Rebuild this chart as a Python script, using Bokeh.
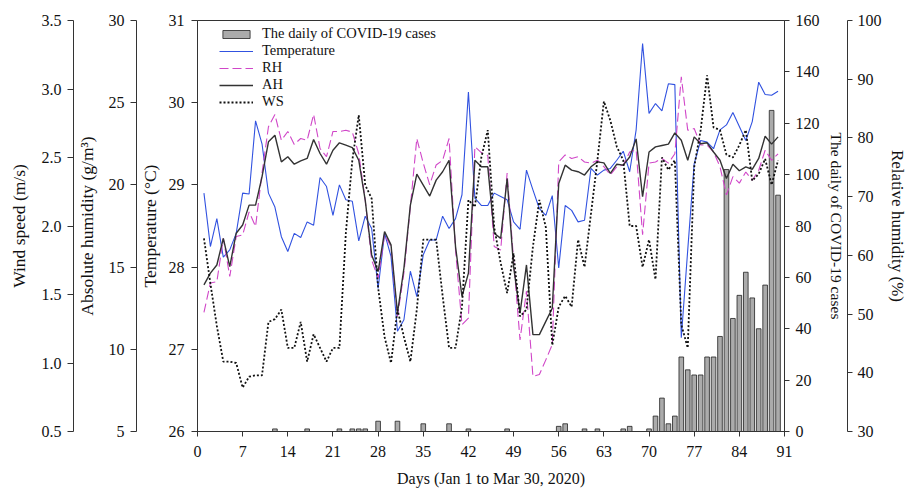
from bokeh.plotting import figure
from bokeh.models import Range1d, LinearAxis, FixedTicker, Legend, LegendItem
from bokeh.embed import file_html
from bokeh.resources import INLINE

days = list(range(1, 91))
temperature = [28.90, 28.25, 28.59, 28.12, 28.21, 28.41, 28.90, 28.89, 29.78, 29.50,
               28.90, 28.73, 28.37, 28.19, 28.41, 28.36, 28.55, 28.51, 29.09, 28.98,
               28.63, 29.00, 28.82, 28.80, 28.32, 28.62, 28.47, 27.74, 28.41, 28.13,
               27.22, 27.36, 27.95, 27.64, 28.15, 28.33, 28.33, 28.62, 28.47, 28.59,
               28.88, 30.13, 28.84, 28.75, 28.75, 28.90, 28.86, 28.82, 28.55, 28.46,
               29.18, 28.94, 28.71, 28.63, 28.87, 27.99, 28.75, 28.69, 28.55, 28.57,
               29.20, 29.12, 29.18, 29.20, 29.30, 29.41, 29.16, 29.67, 30.72, 29.87,
               29.99, 29.90, 30.23, 30.22, 27.14, 28.21, 29.26, 29.54, 29.52, 29.44,
               29.67, 29.73, 29.88, 29.71, 29.54, 29.77, 30.25, 30.10, 30.09, 30.14]
rh = [50.3, 55.3, 55.5, 62.9, 56.4, 63.2, 63.5, 67.4, 64.9, 74.0,
      81.9, 84.0, 79.6, 81.1, 78.9, 79.9, 79.6, 84.0, 78.2, 76.8,
      81.1, 81.1, 81.3, 81.0, 77.3, 69.4, 59.2, 56.1, 63.5, 61.5,
      49.6, 57.0, 68.3, 79.9, 75.7, 72.0, 75.4, 76.2, 79.9, 60.9,
      48.2, 49.3, 78.5, 77.5, 77.0, 61.5, 60.9, 74.0, 59.2, 45.6,
      53.9, 39.4, 39.7, 42.2, 44.8, 75.9, 77.1, 76.5, 76.8, 75.9,
      75.7, 76.2, 75.1, 73.7, 75.1, 75.4, 77.6, 78.0, 63.5, 75.7,
      75.9, 76.5, 75.7, 77.3, 90.4, 81.3, 81.6, 78.8, 78.8, 77.6,
      75.1, 70.3, 73.4, 72.3, 74.2, 72.8, 74.5, 77.9, 76.2, 77.3]
ah = [13.92, 14.63, 15.13, 16.75, 15.03, 17.06, 17.56, 18.77, 18.77, 20.49,
      22.62, 23.02, 21.40, 21.71, 21.26, 21.46, 21.61, 22.76, 21.91, 21.26,
      22.11, 22.56, 22.42, 22.27, 21.50, 19.08, 15.74, 14.73, 17.16, 16.35,
      12.20, 14.93, 18.77, 20.66, 19.99, 19.32, 20.29, 20.80, 21.50, 16.25,
      13.21, 14.63, 21.50, 21.10, 21.10, 17.06, 16.75, 20.39, 15.03, 12.20,
      15.13, 10.89, 10.89, 11.70, 12.50, 20.09, 21.20, 20.90, 20.80, 20.60,
      21.10, 21.40, 21.34, 20.70, 21.26, 21.20, 21.70, 22.80, 19.28, 22.00,
      22.31, 22.40, 22.48, 23.16, 22.72, 21.50, 22.92, 22.50, 22.56, 22.00,
      21.50, 20.39, 21.26, 20.86, 21.10, 20.94, 21.61, 22.96, 22.48, 22.92]
ws = [1.91, 1.58, 1.27, 1.01, 1.01, 1.00, 0.82, 0.90, 0.91, 0.91,
      1.30, 1.32, 1.39, 1.11, 1.11, 1.30, 1.01, 1.21, 1.11, 1.01,
      1.11, 1.11, 1.95, 2.48, 2.81, 2.30, 2.20, 1.55, 1.19, 1.00,
      1.39, 1.19, 1.01, 1.39, 1.90, 1.90, 1.90, 1.49, 1.11, 1.11,
      1.41, 2.19, 2.14, 2.50, 2.70, 1.99, 1.73, 1.51, 1.80, 1.34,
      1.39, 1.85, 2.19, 1.99, 1.13, 1.41, 1.49, 1.41, 1.90, 1.70,
      2.09, 2.48, 2.91, 2.77, 2.58, 2.48, 2.00, 2.00, 1.70, 1.90,
      1.61, 2.50, 2.41, 2.48, 1.28, 1.11, 2.43, 2.70, 3.10, 2.72,
      2.70, 2.52, 2.50, 2.59, 2.70, 2.33, 2.38, 2.49, 2.30, 2.48]
cases = [0, 0, 0, 0, 0, 0, 0, 0, 0, 0,
         0, 1, 0, 0, 0, 0, 1, 0, 0, 0,
         0, 1, 0, 1, 1, 1, 0, 4, 0, 0,
         4, 0, 0, 0, 3, 0, 0, 0, 3, 0,
         0, 1, 0, 0, 0, 0, 0, 1, 0, 0,
         0, 0, 0, 0, 0, 2, 3, 0, 0, 1,
         0, 1, 0, 0, 0, 1, 2, 0, 0, 1,
         6, 13, 3, 6, 29, 24, 22, 22, 29, 29,
         37, 102, 44, 53, 62, 52, 40, 57, 125, 92]

x_ticks = [0, 7, 14, 21, 28, 35, 42, 49, 56, 63, 70, 77, 84, 91]
temp_ticks = [26, 27, 28, 29, 30, 31]
ah_ticks = [5, 10, 15, 20, 25, 30]
ws_ticks = [0.5, 1.0, 1.5, 2.0, 2.5, 3.0, 3.5]
ws_tick_labels = ["0.5", "1.0", "1.5", "2.0", "2.5", "3.0", "3.5"]
case_ticks = [0, 20, 40, 60, 80, 100, 120, 140, 160]
rh_ticks = [30, 40, 50, 60, 70, 80, 90, 100]

FONT = "Liberation Serif"

p = figure(width=912, height=489, x_range=Range1d(0, 91), y_range=Range1d(26, 31),
           output_backend="svg", toolbar_location=None,
           min_border_left=197, min_border_right=128, min_border_top=20, min_border_bottom=57)
p.extra_y_ranges = {"ah": Range1d(5, 30), "ws": Range1d(0.5, 3.5),
                    "cases": Range1d(0, 160), "rh": Range1d(30, 100)}
p.grid.visible = False
p.outline_line_color = "#333333"
p.background_fill_color = "white"


def style(ax, ticks, label, tick_out, lab_so, axlab_so, lab_size="17.5px"):
    ax.ticker = FixedTicker(ticks=ticks)
    ax.axis_label = label
    ax.axis_label_text_font = FONT
    ax.axis_label_text_font_size = lab_size
    ax.axis_label_text_font_style = "normal"
    ax.axis_label_text_color = "#111111"
    ax.major_label_text_font = FONT
    ax.major_label_text_font_size = "16px"
    ax.major_label_text_color = "#111111"
    ax.major_tick_out = tick_out
    ax.major_tick_in = 0
    ax.minor_tick_out = 0
    ax.minor_tick_in = 0
    ax.axis_line_color = "#333333"
    ax.major_tick_line_color = "#333333"
    ax.major_label_standoff = lab_so
    ax.axis_label_standoff = axlab_so


style(p.xaxis[0], x_ticks, "Days (Jan 1 to Mar 30, 2020)", 5, 9, 10, lab_size="16px")
style(p.yaxis[0], temp_ticks, "Temperature (°C)", 6, 7, 6)

ax_ah = LinearAxis(y_range_name="ah")
style(ax_ah, ah_ticks, "Absolute humidity (g/m³)", 6, 6, 9)
p.add_layout(ax_ah, "left")

ax_ws = LinearAxis(y_range_name="ws")
style(ax_ws, ws_ticks, "Wind speed (m/s)", 6, 6, 10)
ax_ws.major_label_overrides = {t: s for t, s in zip(ws_ticks, ws_tick_labels)}
p.add_layout(ax_ws, "left")

ax_c = LinearAxis(y_range_name="cases")
style(ax_c, case_ticks, "The daily of COVID-19 cases", 5, 6, 5, lab_size="15.6px")
p.add_layout(ax_c, "right")

ax_rh = LinearAxis(y_range_name="rh")
style(ax_rh, rh_ticks, "Relative humidity (%)", 5, 5, 3, lab_size="17px")
p.add_layout(ax_rh, "right")

bar_days = [d for d, c in zip(days, cases) if c > 0]
bar_vals = [c for c in cases if c > 0]
r_bar = p.vbar(x=bar_days, top=bar_vals, bottom=0, width=0.72, y_range_name="cases",
               fill_color="#ababab", line_color="#222222", line_width=0.8)
r_t = p.line(days, temperature, line_color="#3152e0", line_width=1.1)
r_rh = p.line(days, rh, y_range_name="rh", line_color="#d046c8", line_width=1.1, line_dash="9 4")
r_ah = p.line(days, ah, y_range_name="ah", line_color="#333333", line_width=1.4)
r_ws = p.line(days, ws, y_range_name="ws", line_color="#111111", line_width=1.8, line_dash="2 2")

legend = Legend(items=[
    LegendItem(label="The daily of COVID-19 cases", renderers=[r_bar]),
    LegendItem(label="Temperature", renderers=[r_t]),
    LegendItem(label="RH", renderers=[r_rh]),
    LegendItem(label="AH", renderers=[r_ah]),
    LegendItem(label="WS", renderers=[r_ws]),
], location=(22, 321))
legend.padding = 0
legend.margin = 0
legend.spacing = 0
legend.border_line_color = None
legend.background_fill_alpha = 0
legend.glyph_width = 34
legend.glyph_height = 10
legend.label_height = 17
legend.label_standoff = 9
legend.label_text_font = FONT
legend.label_text_font_size = "14.5px"
legend.label_text_color = "#111111"
p.add_layout(legend)

open("out.html", "w").write(file_html(p, INLINE))
